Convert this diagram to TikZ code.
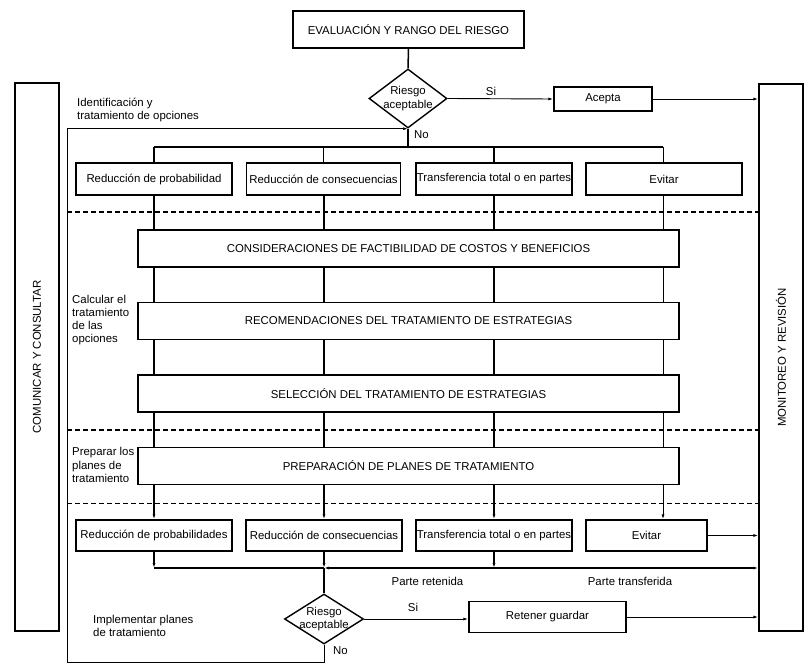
\documentclass[tikz,border=0pt]{standalone}
\usepackage{fontspec}
\setmainfont{Liberation Sans}
\usetikzlibrary{shapes.geometric,arrows.meta,backgrounds}
\newcommand{\myfs}{\fontsize{11.4}{13.2}\selectfont}
\begin{document}
\begin{tikzpicture}[x=1pt,y=-1pt,
  box/.style={draw,line width=1.4pt,fill=white,inner sep=0pt,font=\myfs},
  dia/.style={draw,diamond,line width=1.4pt,fill=white,inner sep=0pt},
  lbl/.style={font=\myfs,inner sep=0pt},
  main/.style={line width=1.5pt},
  thin/.style={line width=0.9pt},
  arr/.style={-{Latex[length=5pt,width=3pt]}},
  sep/.style={dashed,line width=1.2pt,dash pattern=on 5pt off 3pt}
]
\useasboundingbox (0,0) rectangle (808,669);

% side boxes
\node[box,minimum width=44pt,minimum height=548pt] (comun) at (37,357) {};
\node[lbl,rotate=90] at (comun) {COMUNICAR Y CONSULTAR};
\node[box,minimum width=44pt,minimum height=547pt] (monit) at (781,357.5) {};
\node[lbl,rotate=90] at (monit) {MONITOREO Y REVISIÓN};

% top
\node[box,minimum width=231pt,minimum height=37pt] (eval) at (408.5,29.5) {EVALUACIÓN Y RANGO DEL RIESGO};
\node[dia,minimum width=78pt,minimum height=59pt] (d1) at (408,98.5) {};
\node[lbl,align=center] at (d1) {Riesgo\\aceptable};
\node[box,minimum width=98pt,minimum height=24pt] (acepta) at (603,99) {Acepta};

% first row
\node[box,minimum width=156pt,minimum height=32pt] (r1a) at (154,179) {Reducción de probabilidad};
\node[box,minimum width=154pt,minimum height=32pt] (r1b) at (323.5,179) {Reducción de consecuencias};
\node[box,minimum width=156pt,minimum height=32pt] (r1c) at (494,179) {Transferencia total o en partes};
\node[box,minimum width=156pt,minimum height=32pt] (r1d) at (664,179) {Evitar};

% big boxes
\node[box,minimum width=541pt,minimum height=37pt] (b1) at (408.5,248.5) {CONSIDERACIONES DE FACTIBILIDAD DE COSTOS Y BENEFICIOS};
\node[box,minimum width=541pt,minimum height=37pt] (b2) at (408.5,321) {RECOMENDACIONES DEL TRATAMIENTO DE ESTRATEGIAS};
\node[box,minimum width=541pt,minimum height=37pt] (b3) at (408.5,393.5) {SELECCIÓN DEL TRATAMIENTO DE ESTRATEGIAS};
\node[box,minimum width=541pt,minimum height=37pt] (b4) at (408.5,466) {PREPARACIÓN DE PLANES DE TRATAMIENTO};

% second row
\node[box,minimum width=156pt,minimum height=31pt] (r2a) at (154,535.5) {Reducción de probabilidades};
\node[box,minimum width=156pt,minimum height=31pt] (r2b) at (324,535.5) {Reducción de consecuencias};
\node[box,minimum width=156pt,minimum height=31pt] (r2c) at (494,535.5) {Transferencia total o en partes};
\node[box,minimum width=121pt,minimum height=31pt] (r2d) at (646.5,535.5) {Evitar};

% bottom
\node[dia,minimum width=79pt,minimum height=50pt] (d2) at (324,619) {};
\node[lbl,align=center] at (d2) {Riesgo\\aceptable};
\node[box,minimum width=157pt,minimum height=31pt] (ret) at (547.5,617) {Retener guardar};

% coordinates
\coordinate (br) at (408,147);
\coordinate (brL) at (154,147);
\coordinate (brR) at (663,147);
\coordinate (loopBL) at (67,662);
\coordinate (jA) at (154,568);
\coordinate (jB) at (324,568);
\coordinate (jC) at (494,568);

% connectors
\draw[main] (eval.south) -- (d1.north);
\draw[thin,arr] (d1.east) -- (acepta.west);
\draw[thin,arr] (acepta.east) -- (monit.west |- acepta.east);
\draw[main] (d1.south) -- (br);
\draw[main] (brL) -- (brR);
\draw[main] (brL) -- (r1a.north);
\draw[main] (br -| r1b.north) -- (r1b.north);
\draw[main] (br -| r1c.north) -- (r1c.north);
\draw[thin] (brR) -- (brR |- r1d.north);

\begin{pgfonlayer}{background}
\draw[main,arr] (r1a.south) -- (r2a.north);
\draw[main,arr] (r1b.south -| r2b.north) -- (r2b.north);
\draw[main,arr] (r1c.south) -- (r2c.north);
\draw[thin,arr] (brR |- r1d.south) -- (brR |- r2d.north);
\end{pgfonlayer}

% separators
\draw[sep] (67,212) -- (monit.west |- 0,212);
\draw[sep] (67,430) -- (monit.west |- 0,430);
\draw[sep,line width=0.9pt] (67,503) -- (monit.west |- 0,503);

% loop
\draw[thin,arr] (d2.south) |- (loopBL) |- (d1.south);

% lower flows
\draw[thin,arr] (r2d.east) -- (monit.west |- r2d.east);
\draw[main,arr] (r2a.south) -- (jA);
\draw[main,arr] (r2b.south) -- (jB);
\draw[main,arr] (r2c.south) -- (jC);
\draw[main] (jA) -- (jB);
\draw[main,arr] (jC) -- (jB);
\draw[main,arr] (jC) -- (monit.west |- jC);
\draw[main] (jB) -- (d2.north);
\draw[thin,arr] (d2.east) -- (ret.west |- d2.east);
\draw[thin,arr] (ret.east) -- (monit.west |- ret.east);

% labels
\node[lbl] at (491,91) {Si};
\node[lbl,anchor=west] at (414,135) {No};
\node[lbl,anchor=west,align=left] at (77,110) {Identificación y\\tratamiento de opciones};
\node[lbl,anchor=west,align=left] at (72,320) {Calcular el\\tratamiento\\de las\\opciones};
\node[lbl,anchor=west,align=left] at (72,465) {Preparar los\\planes de\\tratamiento};
\node[lbl] at (427.5,581) {Parte retenida};
\node[lbl] at (630,581) {Parte transferida};
\node[lbl] at (413,607) {Si};
\node[lbl,anchor=west,align=left] at (93,626) {Implementar planes\\de tratamiento};
\node[lbl,anchor=west] at (333,651) {No};
\end{tikzpicture}
\end{document}
